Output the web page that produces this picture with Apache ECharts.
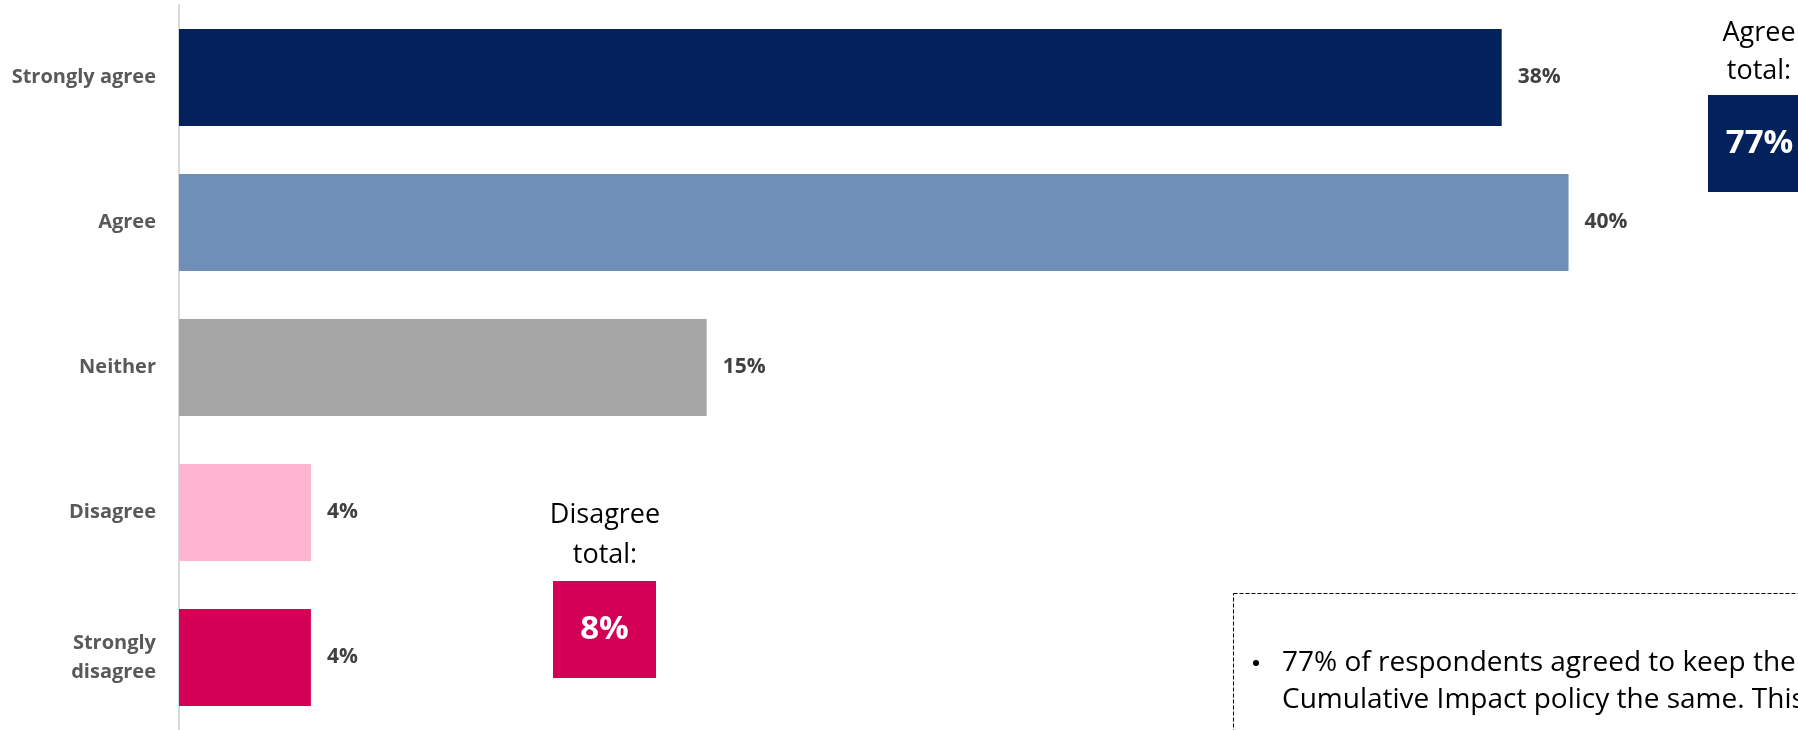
<!DOCTYPE html>
<head>
    <meta charset="utf-8">
    <title>ECharts</title>
</head>
<body style="margin:0">
<div id="main" style="width:1798px;height:730px"></div>
<script src="https://cdn.jsdelivr.net/npm/echarts@6/dist/echarts.min.js"></script>
<script type="text/javascript">
// 数据
var categories = ['Strongly agree', 'Agree', 'Neither', 'Disagree', 'Strongly\ndisagree'];
var values = [37.6, 39.5, 15.0, 3.75, 3.75];
var barColors = ['#03215B', '#6F8FB8', '#A6A6A6', '#FDB5D0', '#D40055'];
var agreeTotal = 77;
var disagreeTotal = 8;
var noteLines = [
    '77% of respondents agreed to keep the',
    'Cumulative Impact policy the same. This'
];

var myChart = echarts.init(document.getElementById('main'));

var option = {
    backgroundColor: '#fff',
    animation: false,
    grid: {left: 179, right: 39.5, top: 5, bottom: 0},
    xAxis: {
        type: 'value',
        min: 0,
        max: 44.9,
        show: false
    },
    yAxis: {
        type: 'category',
        inverse: true,
        data: categories,
        axisLine: {show: true, lineStyle: {color: '#d9d9d9', width: 2}},
        axisTick: {show: false},
        axisLabel: {
            margin: 23,
            fontFamily: 'Open Sans',
            fontWeight: 'bold',
            fontSize: 20,
            lineHeight: 29,
            color: '#595959'
        }
    },
    series: [{
        type: 'bar',
        barWidth: 97,
        data: values.map(function (v, i) {
            return {value: v, itemStyle: {color: barColors[i]}};
        }),
        label: {
            show: true,
            position: 'right',
            distance: 16,
            fontFamily: 'Open Sans',
            fontWeight: 'bold',
            fontSize: 21,
            color: '#404040',
            formatter: function (p) { return Math.round(p.value) + '%'; }
        }
    }],
    graphic: [
        // Disagree total
        {type: 'text', x: 605, y: 535, style: {text: 'Disagree\ntotal:', fill: '#000', font: '27px "Open Sans"', lineHeight: 40, align: 'center', verticalAlign: 'middle'}},
        {type: 'rect', shape: {x: 553, y: 581, width: 103, height: 97}, style: {fill: '#D40055'}},
        {type: 'text', x: 604.5, y: 630, style: {text: disagreeTotal + '%', fill: '#fff', font: 'bold 33px "Open Sans"', align: 'center', verticalAlign: 'middle'}},
        // Agree total
        {type: 'text', x: 1759, y: 52, style: {text: 'Agree\ntotal:', fill: '#000', font: '27px "Open Sans"', lineHeight: 38, align: 'center', verticalAlign: 'middle'}},
        {type: 'rect', shape: {x: 1708, y: 95, width: 103, height: 97}, style: {fill: '#03215B'}},
        {type: 'text', x: 1759.5, y: 144, style: {text: agreeTotal + '%', fill: '#fff', font: 'bold 33px "Open Sans"', align: 'center', verticalAlign: 'middle'}},
        // note box
        {type: 'rect', shape: {x: 1233.5, y: 593.5, width: 700, height: 300}, style: {fill: 'none', stroke: '#000', lineWidth: 1, lineDash: [4, 2]}},
        {type: 'circle', shape: {cx: 1256, cy: 663, r: 3}, style: {fill: '#000'}},
        {type: 'text', x: 1282, y: 663, style: {text: noteLines[0], fill: '#000', font: '28px "Open Sans"', verticalAlign: 'middle'}},
        {type: 'text', x: 1282, y: 700, style: {text: noteLines[1], fill: '#000', font: '28px "Open Sans"', verticalAlign: 'middle'}}
    ]
};
myChart.setOption(option);
</script>
</body>
